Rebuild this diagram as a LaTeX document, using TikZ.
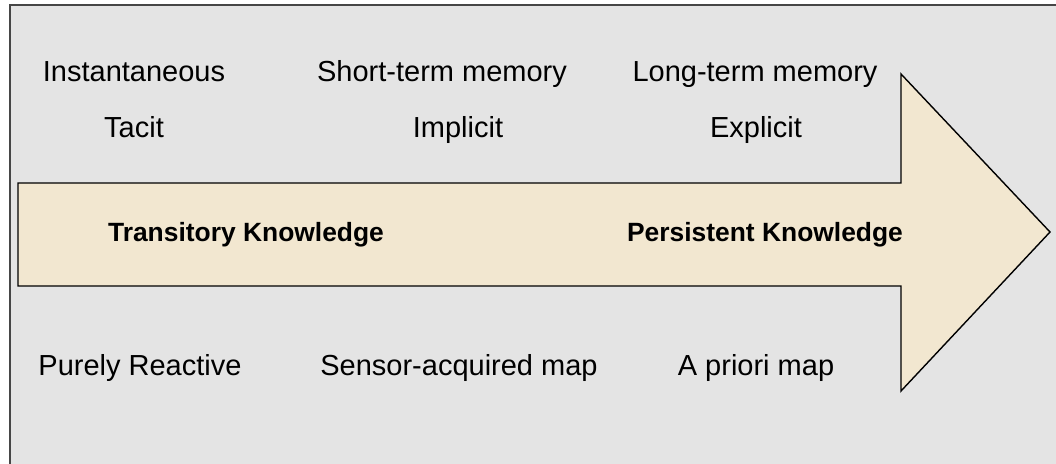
\documentclass[tikz,border=0pt]{standalone}
\usepackage{fontspec}
\setmainfont{Liberation Sans}
\definecolor{panelgray}{RGB}{228,228,228}
\definecolor{panelline}{RGB}{70,70,70}
\definecolor{arrowfill}{RGB}{242,231,208}
\begin{document}
\begin{tikzpicture}[x=1pt,y=-1pt,
  label/.style={anchor=base,inner sep=0pt,text=black,font=\fontsize{29}{34}\selectfont},
  keylabel/.style={anchor=base,inner sep=0pt,text=black,font=\fontsize{26.4}{31}\selectfont\bfseries}]
  \useasboundingbox (0,0) rectangle (1056,463);
  % panel
  \begin{scope}
    \clip (0,0) rectangle (1056,463);
    \draw[panelline,line width=1.5pt,fill=panelgray] (10,5) rectangle (1070,480);
  \end{scope}
  % block arrow from transitory to persistent
  \draw[black,line width=1.4pt,fill=arrowfill,line join=miter]
    (18,183) -- (901,183) -- (901,74) -- (1050,232) -- (901,391) -- (901,286) -- (18,286) -- cycle;
  % top rows
  \node[label] (inst) at (134,81) {Instantaneous};
  \node[label] (stm)  at (442,81) {Short-term memory};
  \node[label] (ltm)  at (755,81) {Long-term memory};
  \node[label] (tac)  at (134,137) {Tacit};
  \node[label] (imp)  at (458,137) {Implicit};
  \node[label] (exp)  at (756,137) {Explicit};
  % labels on the arrow
  \node[keylabel] (trans) at (246,241) {Transitory Knowledge};
  \node[keylabel] (pers)  at (765,241) {Persistent Knowledge};
  % bottom row
  \node[label] (react)  at (140,375) {Purely Reactive};
  \node[label] (sensor) at (459,375) {Sensor-acquired map};
  \node[label] (prior)  at (756,375) {A priori map};
\end{tikzpicture}
\end{document}
